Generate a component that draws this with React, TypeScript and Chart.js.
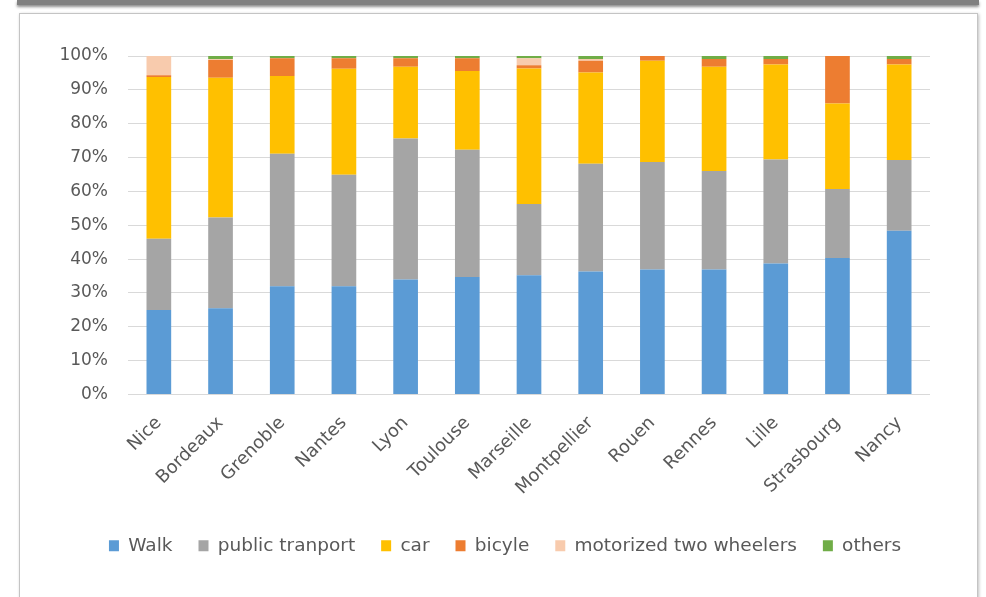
import React, { useEffect, useRef } from "react";
import { Chart, registerables } from "chart.js";

Chart.register(...registerables);

const cities = ["Nice", "Bordeaux", "Grenoble", "Nantes", "Lyon", "Toulouse", "Marseille", "Montpellier", "Rouen", "Rennes", "Lille", "Strasbourg", "Nancy"];
const walk = [25, 25.5, 32, 32, 34, 34.7, 35.2, 36.3, 36.9, 36.9, 38.7, 40.3, 48.4];
const publicTransport = [21, 26.8, 39.1, 32.9, 41.6, 37.6, 21.1, 31.9, 31.8, 29.1, 30.7, 20.4, 20.9];
const car = [47.8, 41.3, 23, 31.3, 21.2, 23.3, 40, 26.9, 29.9, 30.8, 28.1, 25.3, 28.2];
const bicycle = [0.5, 5.2, 5.2, 3.1, 2.5, 3.7, 1, 3.5, 1.4, 2.3, 1.6, 14, 1.6];
const motorized = [5.7, 0.3, 0, 0, 0, 0, 2, 0.5, 0, 0, 0, 0, 0];
const others = [0, 0.9, 0.7, 0.7, 0.7, 0.7, 0.7, 0.9, 0, 0.9, 0.9, 0, 0.9];
const yTicks = [0, 10, 20, 30, 40, 50, 60, 70, 80, 90, 100];

const FONT = "'DejaVu Sans', sans-serif";
const TEXT = "#595959";

export default function App() {
  const ref = useRef<HTMLCanvasElement | null>(null);
  useEffect(() => {
    if (!ref.current) return;
    const mk = (label: string, data: number[], color: string) => ({
      label,
      data,
      backgroundColor: color,
      borderWidth: 0,
      barPercentage: 0.8,
      categoryPercentage: 0.5,
      yAxisID: "y",
    });
    const chart = new Chart(ref.current, {
      type: "bar",
      data: {
        labels: cities,
        datasets: [
          mk("Walk", walk, "#5B9BD5"),
          mk("public tranport", publicTransport, "#A5A5A5"),
          mk("car", car, "#FFC000"),
          mk("bicyle", bicycle, "#ED7D31"),
          mk("motorized two wheelers", motorized, "#F8CBAD"),
          mk("others", others, "#70AD47"),
        ],
      },
      options: {
        responsive: false,
        animation: false,
        layout: { padding: { left: 30, right: 6, top: 56, bottom: 32 } },
        plugins: {
          tooltip: { enabled: false },
          legend: {
            position: "bottom",
            labels: {
              boxWidth: 10,
              boxHeight: 11,
              padding: 26,
              color: TEXT,
              font: { family: FONT, size: 18.5 },
            },
          },
        },
        scales: {
          x: {
            stacked: true,
            grid: { display: false },
            border: { display: false },
            ticks: {
              autoSkip: false,
              minRotation: 45,
              maxRotation: 45,
              padding: 10,
              color: TEXT,
              font: { family: FONT, size: 18 },
            },
            afterFit: (s: any) => {
              s.height = 116;
            },
          },
          y: {
            stacked: true,
            min: 0,
            max: 100,
            position: "left",
            afterBuildTicks: (s: any) => {
              s.ticks = yTicks.map((v) => ({ value: v }));
            },
            grid: { color: "#D9D9D9", lineWidth: 1, drawTicks: false },
            border: { display: false },
            ticks: {
              padding: 20,
              color: TEXT,
              font: { family: FONT, size: 17 },
              callback: (v: any) => v + "%",
            },
            afterFit: (s: any) => {
              s.width = 98;
            },
          },
          spacer: {
            type: "linear",
            position: "right",
            min: 0,
            max: 100,
            grid: { display: false },
            border: { display: false },
            ticks: { display: false },
            afterFit: (s: any) => {
              s.width = 50;
            },
          },
        },
      },
    });
    return () => chart.destroy();
  }, []);

  return (
    <div style={{ position: "fixed", left: 0, top: 0, width: 986, height: 597, background: "#fff", overflow: "hidden" }}>
      <div style={{ position: "absolute", left: 17, top: 0, width: 962, height: 5, background: "#808080", boxShadow: "0 2px 3px rgba(0,0,0,0.45)" }} />
      <div style={{ position: "absolute", left: 19, top: 13, width: 957, height: 620, border: "1px solid #c4c4c4", boxShadow: "1px 1px 3px rgba(0,0,0,0.25)", background: "#fff" }} />
      <canvas ref={ref} width={986} height={597} style={{ position: "absolute", left: 0, top: 0, width: 986, height: 597 }} />
    </div>
  );
}
